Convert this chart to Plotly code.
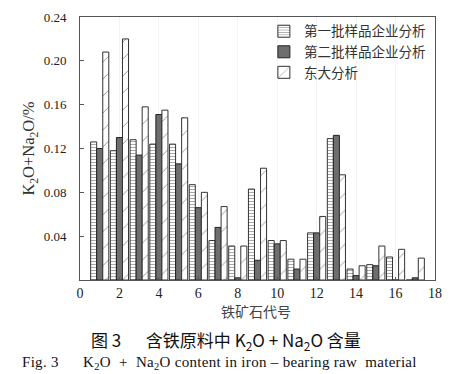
import plotly.graph_objects as go

codes = list(range(1, 18))
batch1 = [0.126, 0.118, 0.128, 0.124, 0.124, 0.087, 0.036, 0.031, 0.083, 0.036, 0.019, 0.043, 0.129, 0.010, 0.014, 0.021, 0.0]
batch2 = [0.120, 0.130, 0.114, 0.151, 0.106, 0.066, 0.048, 0.002, 0.018, 0.033, 0.010, 0.043, 0.132, 0.004, 0.013, 0.0, 0.002]
neu = [0.208, 0.220, 0.158, 0.155, 0.148, 0.080, 0.067, 0.031, 0.102, 0.036, 0.019, 0.058, 0.096, 0.013, 0.031, 0.028, 0.020]
names = ["第一批样品企业分析", "第二批样品企业分析", "东大分析"]
yticks = [0, 0.04, 0.08, 0.12, 0.16, 0.20, 0.24]
ytext = ["", "0.04", "0.08", "0.12", "0.16", "0.20", "0.24"]
xticks = [0, 2, 4, 6, 8, 10, 12, 14, 16, 18]

fig = go.Figure()
fig.add_trace(go.Bar(x=codes, y=batch1, name=names[0],
                     marker=dict(color="white", line=dict(color="#333", width=1),
                                 pattern=dict(shape="-", size=3, solidity=0.35, fgcolor="#555", bgcolor="white"))))
fig.add_trace(go.Bar(x=codes, y=batch2, name=names[1],
                     marker=dict(color="#6e6e6e", line=dict(color="#222", width=1))))
fig.add_trace(go.Bar(x=codes, y=neu, name=names[2],
                     marker=dict(color="white", line=dict(color="#333", width=1),
                                 pattern=dict(shape="/", size=12, solidity=0.08, fgcolor="#333", bgcolor="white"))))

serif = "Liberation Serif, Times New Roman, serif"
cjk = "Noto Sans CJK SC"
fig.update_layout(
    width=444, height=366,
    margin=dict(l=72, r=17, t=9, b=94, autoexpand=False),
    paper_bgcolor="white", plot_bgcolor="white",
    barmode="group", bargap=0.08, bargroupgap=0,
    showlegend=True,
    legend=dict(x=0.518, y=1.004, xanchor="left", yanchor="top", bgcolor="rgba(0,0,0,0)",
                font=dict(family=cjk, size=13.5, color="#333"), tracegroupgap=0, itemwidth=30),
    font=dict(family=serif, color="#222"),
)
fig.update_xaxes(range=[0, 18], tickvals=xticks, ticktext=[str(t) for t in xticks],
                 automargin=False,
                 showline=True, linecolor="#555", linewidth=1, mirror=True,
                 ticks="inside", ticklen=3, tickcolor="#555",
                 showgrid=True, gridcolor="#f3f3f3",
                 tickfont=dict(family=serif, size=14, color="#222"))
fig.update_yaxes(range=[0, 0.24], tickvals=yticks, ticktext=ytext,
                 automargin=False,
                 showline=True, linecolor="#555", linewidth=1, mirror=True,
                 ticks="inside", ticklen=4, tickcolor="#555",
                 showgrid=False, zeroline=False, ticklabelstandoff=10,
                 tickfont=dict(family=serif, size=13, color="#222"),
                 title=dict(text="K<sub>2</sub>O+Na<sub>2</sub>O/%", font=dict(family=serif, size=16.5, color="#333"), standoff=4))

fig.add_annotation(text="铁矿石代号", xref="paper", yref="paper", x=0.496, y=0, yshift=-31,
                   xanchor="center", yanchor="middle", showarrow=False,
                   font=dict(family=cjk, size=14, color="#444"))
fig.add_annotation(text="图 3　  含铁原料中 K<sub>2</sub>O + Na<sub>2</sub>O 含量", xref="paper", yref="paper",
                   x=0.411, y=0, yshift=-60, xanchor="center", yanchor="middle", showarrow=False,
                   font=dict(family=cjk, size=17, color="#111"))
fig.add_annotation(text="<span style='letter-spacing:0.3px'>Fig. 3      K<sub>2</sub>O  +  Na<sub>2</sub>O content in iron – bearing raw  material</span>",
                   xref="paper", yref="paper",
                   x=-0.169, y=0, yshift=-83, xanchor="left", yanchor="middle", showarrow=False,
                   font=dict(family=serif, size=15, color="#111"))

fig.write_html("out.html")
